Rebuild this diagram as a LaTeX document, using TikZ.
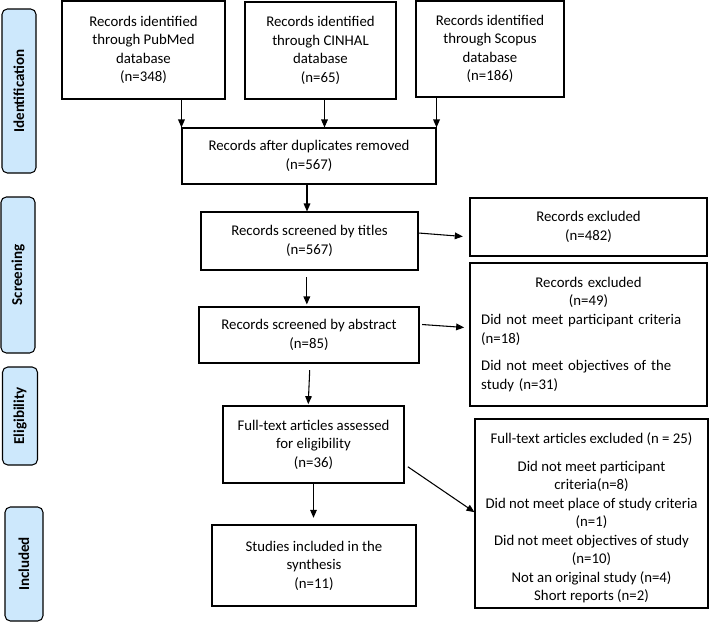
\documentclass[tikz,border=0pt]{standalone}
\usepackage{fontspec}
\setmainfont{Carlito}
\usetikzlibrary{arrows.meta}
\definecolor{sideblue}{RGB}{205,232,252}
\begin{document}
\begin{tikzpicture}[x=0.75pt,y=-0.75pt,
  box/.style={draw, line width=0.8pt, align=center, inner sep=2pt,
    font=\fontsize{11.1pt}{13.9pt}\selectfont},
  sz/.style 2 args={minimum width=#1*0.75pt, minimum height=#2*0.75pt},
  side/.style={draw, line width=0.8pt, fill=sideblue, rounded corners=4pt, rotate=90,
    inner sep=1pt, font=\bfseries\fontsize{11.3pt}{14pt}\selectfont},
  arr/.style={-{Triangle[length=6pt,width=5pt]}, line width=0.8pt}]
\useasboundingbox (0,0) rectangle (710,622);

% side labels
\node[side, sz={164}{34}] (s1) at (19,91) {Identification};
\node[side, sz={156}{34}] (s2) at (18,275) {Screening};
\node[side, sz={98}{35}] (s3) at (20,416) {Eligibility};
\node[side, sz={114}{38}] (s4) at (24,564) {Included};

% identification
\node[box, sz={163}{98}] (pub) at (143.5,50) {Records identified\\through PubMed\\database\\(n=348)};
\node[box, sz={151}{97}] (cin) at (320.5,50.5) {Records identified\\through CINHAL\\database\\(n=65)};
\node[box, sz={148}{96}] (sco) at (490,49) {Records identified\\through Scopus\\database\\(n=186)};
\node[box, sz={254}{56}] (dup) at (309,156) {Records after duplicates removed\\(n=567)};

% screening
\node[box, sz={217}{58}] (tit) at (309.5,241) {Records screened by titles\\(n=567)};
\node[box, sz={220}{56}] (abs) at (309,335) {Records screened by abstract\\(n=85)};
\node[box, sz={237}{58}] (ex1) at (588.5,227) {Records excluded\\(n=482)};
\node[box, sz={237}{143}, text width=161pt, align=left] (ex2) at (588.5,334.5)
  {{\centering Records excluded\\(n=49)\par}
   Did not meet participant criteria\\(n=18)\\[7pt]
   Did not meet objectives of the\\study (n=31)};

% eligibility
\node[box, sz={181}{77}] (ft) at (313.5,444.5) {Full-text articles assessed\\for eligibility\\(n=36)};
\node[box, sz={233}{189}] (ex3) at (591.5,513.5)
  {\rule{0pt}{15pt}Full-text articles excluded (n = 25)\\[6.5pt]
   Did not meet participant\\criteria(n=8)\\
   Did not meet place of study criteria\\(n=1)\\
   Did not meet objectives of study\\(n=10)\\
   Not an original study (n=4)\\
   Short reports (n=2)};

% included
\node[box, sz={204}{81}] (inc) at (314,565.5) {Studies included in the\\synthesis\\(n=11)};

% connectors
\draw[arr] (pub.south -| dup.west) -- (dup.north west);
\draw[arr] ([xshift=3pt]cin.south) -- ([xshift=3pt]cin.south |- dup.north);
\draw[arr] (sco.south -| dup.east) -- (dup.north east);
\draw[arr] ([xshift=-1.5pt]dup.south) -- ([xshift=-1.5pt]dup.south |- tit.north);
\draw[arr, shorten <=5pt, shorten >=1.5pt] ([xshift=-2pt]tit.south) -- ([xshift=-2pt]tit.south |- abs.north);
\draw[arr, shorten <=5pt, shorten >=1pt] ([xshift=0.75pt]abs.south) -- ([xshift=-4pt]ft.north);
\draw[arr, shorten >=5pt] (ft.south) -- (ft.south |- inc.north);
\draw[arr, shorten >=5pt] ([yshift=6pt]tit.east) -- ([yshift=-7.5pt]ex1.west);
\draw[arr, shorten <=2pt, shorten >=4pt] ([yshift=8pt]abs.east) -- ([yshift=5pt]ex2.west);
\draw[arr, shorten <=3pt] ([yshift=-15pt]ft.east) -- ([yshift=1pt]ex3.west);
\end{tikzpicture}
\end{document}
